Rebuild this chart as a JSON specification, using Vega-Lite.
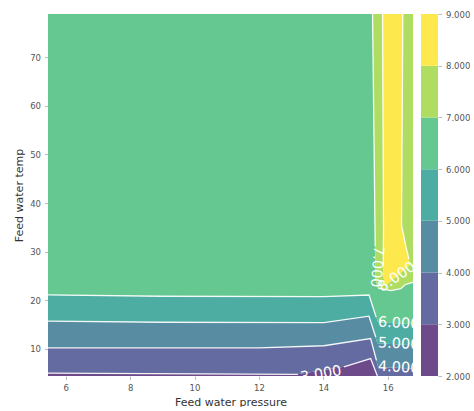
{
  "$schema": "https://vega.github.io/schema/vega-lite/v6.json",
  "background": "white",
  "padding": {"left": 13, "top": 10, "right": 0, "bottom": 0},
  "autosize": {"type": "pad"},
  "spacing": 8,
  "config": {
    "view": {"stroke": null},
    "axis": {
      "domain": false, "grid": false, "tickColor": "#bbbbbb", "tickSize": 3.5, "tickWidth": 1,
      "labelFont": "DejaVu Sans", "labelFontSize": 8.5, "labelColor": "#555555", "labelPadding": 4,
      "titleFont": "DejaVu Sans", "titleFontSize": 11, "titleColor": "#333333", "titleFontWeight": "normal"
    }
  },
  "datasets": {
    "bands": [
      {"band": "2-3", "i": 0, "x": 5.45, "y": 4.44},
      {"band": "2-3", "i": 1, "x": 5.45, "y": 5.04},
      {"band": "2-3", "i": 2, "x": 13.21, "y": 4.79},
      {"band": "2-3", "i": 3, "x": 14.64, "y": 6.32},
      {"band": "2-3", "i": 4, "x": 15.47, "y": 8.02},
      {"band": "2-3", "i": 5, "x": 15.68, "y": 4.44},

      {"band": "3-4", "i": 0, "x": 5.45, "y": 10.21},
      {"band": "3-4", "i": 1, "x": 12.0, "y": 10.21},
      {"band": "3-4", "i": 2, "x": 14.02, "y": 10.66},
      {"band": "3-4", "i": 3, "x": 15.47, "y": 12.14},
      {"band": "3-4", "i": 4, "x": 15.70, "y": 6.34},
      {"band": "3-4", "i": 5, "x": 16.786, "y": 5.93},
      {"band": "3-4", "i": 6, "x": 16.786, "y": 4.44},
      {"band": "3-4", "i": 7, "x": 15.68, "y": 4.44},
      {"band": "3-4", "i": 8, "x": 15.47, "y": 8.02},
      {"band": "3-4", "i": 9, "x": 14.64, "y": 6.32},
      {"band": "3-4", "i": 10, "x": 13.21, "y": 4.79},
      {"band": "3-4", "i": 11, "x": 5.45, "y": 5.04},

      {"band": "4-5", "i": 0, "x": 5.45, "y": 15.74},
      {"band": "4-5", "i": 1, "x": 8.96, "y": 15.49},
      {"band": "4-5", "i": 2, "x": 14.02, "y": 15.43},
      {"band": "4-5", "i": 3, "x": 15.42, "y": 16.73},
      {"band": "4-5", "i": 4, "x": 15.68, "y": 11.17},
      {"band": "4-5", "i": 5, "x": 16.786, "y": 10.76},
      {"band": "4-5", "i": 6, "x": 16.786, "y": 5.93},
      {"band": "4-5", "i": 7, "x": 15.70, "y": 6.34},
      {"band": "4-5", "i": 8, "x": 15.47, "y": 12.14},
      {"band": "4-5", "i": 9, "x": 14.02, "y": 10.66},
      {"band": "4-5", "i": 10, "x": 12.0, "y": 10.21},
      {"band": "4-5", "i": 11, "x": 5.45, "y": 10.21},

      {"band": "5-6", "i": 0, "x": 5.45, "y": 21.11},
      {"band": "5-6", "i": 1, "x": 8.96, "y": 20.84},
      {"band": "5-6", "i": 2, "x": 14.02, "y": 20.74},
      {"band": "5-6", "i": 3, "x": 15.42, "y": 21.09},
      {"band": "5-6", "i": 4, "x": 15.70, "y": 15.49},
      {"band": "5-6", "i": 5, "x": 16.786, "y": 15.08},
      {"band": "5-6", "i": 6, "x": 16.786, "y": 10.76},
      {"band": "5-6", "i": 7, "x": 15.68, "y": 11.17},
      {"band": "5-6", "i": 8, "x": 15.42, "y": 16.73},
      {"band": "5-6", "i": 9, "x": 14.02, "y": 15.43},
      {"band": "5-6", "i": 10, "x": 8.96, "y": 15.49},
      {"band": "5-6", "i": 11, "x": 5.45, "y": 15.74},

      {"band": "6-7", "i": 0, "x": 5.45, "y": 78.87},
      {"band": "6-7", "i": 1, "x": 5.45, "y": 21.11},
      {"band": "6-7", "i": 2, "x": 8.96, "y": 20.84},
      {"band": "6-7", "i": 3, "x": 14.02, "y": 20.74},
      {"band": "6-7", "i": 4, "x": 15.42, "y": 21.09},
      {"band": "6-7", "i": 5, "x": 15.70, "y": 15.49},
      {"band": "6-7", "i": 6, "x": 16.786, "y": 15.08},
      {"band": "6-7", "i": 7, "x": 16.786, "y": 23.72},
      {"band": "6-7", "i": 8, "x": 16.54, "y": 23.21},
      {"band": "6-7", "i": 9, "x": 16.41, "y": 22.39},
      {"band": "6-7", "i": 10, "x": 16.10, "y": 21.98},
      {"band": "6-7", "i": 11, "x": 15.70, "y": 22.49},
      {"band": "6-7", "i": 12, "x": 15.62, "y": 24.14},
      {"band": "6-7", "i": 13, "x": 15.62, "y": 27.84},
      {"band": "6-7", "i": 14, "x": 15.61, "y": 32.37},
      {"band": "6-7", "i": 15, "x": 15.53, "y": 78.87},

      {"band": "7-8", "i": 0, "x": 15.53, "y": 78.87},
      {"band": "7-8", "i": 1, "x": 15.61, "y": 32.37},
      {"band": "7-8", "i": 2, "x": 15.62, "y": 27.84},
      {"band": "7-8", "i": 3, "x": 15.62, "y": 24.14},
      {"band": "7-8", "i": 4, "x": 15.70, "y": 22.49},
      {"band": "7-8", "i": 5, "x": 16.10, "y": 21.98},
      {"band": "7-8", "i": 6, "x": 16.41, "y": 22.39},
      {"band": "7-8", "i": 7, "x": 16.54, "y": 23.21},
      {"band": "7-8", "i": 8, "x": 16.786, "y": 23.72},
      {"band": "7-8", "i": 9, "x": 16.786, "y": 78.87},
      {"band": "7-8", "i": 10, "x": 16.47, "y": 78.87},
      {"band": "7-8", "i": 11, "x": 16.43, "y": 35.45},
      {"band": "7-8", "i": 12, "x": 16.57, "y": 30.93},
      {"band": "7-8", "i": 13, "x": 16.66, "y": 28.46},
      {"band": "7-8", "i": 14, "x": 16.69, "y": 27.33},
      {"band": "7-8", "i": 15, "x": 16.29, "y": 24.96},
      {"band": "7-8", "i": 16, "x": 15.92, "y": 23.00},
      {"band": "7-8", "i": 17, "x": 15.86, "y": 25.16},
      {"band": "7-8", "i": 18, "x": 15.87, "y": 34.01},
      {"band": "7-8", "i": 19, "x": 15.84, "y": 78.87},

      {"band": "8-9", "i": 0, "x": 15.84, "y": 78.87},
      {"band": "8-9", "i": 1, "x": 15.87, "y": 34.01},
      {"band": "8-9", "i": 2, "x": 15.86, "y": 25.16},
      {"band": "8-9", "i": 3, "x": 15.92, "y": 23.00},
      {"band": "8-9", "i": 4, "x": 16.29, "y": 24.96},
      {"band": "8-9", "i": 5, "x": 16.69, "y": 27.33},
      {"band": "8-9", "i": 6, "x": 16.66, "y": 28.46},
      {"band": "8-9", "i": 7, "x": 16.57, "y": 30.93},
      {"band": "8-9", "i": 8, "x": 16.43, "y": 35.45},
      {"band": "8-9", "i": 9, "x": 16.47, "y": 78.87}
    ],
    "contours": [
      {"seg": "3a", "i": 0, "x": 5.45, "y": 5.04},
      {"seg": "3a", "i": 1, "x": 13.21, "y": 4.79},
      {"seg": "3b", "i": 0, "x": 14.64, "y": 6.32},
      {"seg": "3b", "i": 1, "x": 15.47, "y": 8.02},
      {"seg": "3b", "i": 2, "x": 15.68, "y": 4.44},
      {"seg": "4a", "i": 0, "x": 5.45, "y": 10.21},
      {"seg": "4a", "i": 1, "x": 12.0, "y": 10.21},
      {"seg": "4a", "i": 2, "x": 14.02, "y": 10.66},
      {"seg": "4a", "i": 3, "x": 15.47, "y": 12.14},
      {"seg": "4a", "i": 4, "x": 15.65, "y": 7.67},
      {"seg": "5a", "i": 0, "x": 5.45, "y": 15.74},
      {"seg": "5a", "i": 1, "x": 8.96, "y": 15.49},
      {"seg": "5a", "i": 2, "x": 14.02, "y": 15.43},
      {"seg": "5a", "i": 3, "x": 15.42, "y": 16.73},
      {"seg": "5a", "i": 4, "x": 15.63, "y": 12.41},
      {"seg": "6a", "i": 0, "x": 5.45, "y": 21.11},
      {"seg": "6a", "i": 1, "x": 8.96, "y": 20.84},
      {"seg": "6a", "i": 2, "x": 14.02, "y": 20.74},
      {"seg": "6a", "i": 3, "x": 15.42, "y": 21.09},
      {"seg": "6a", "i": 4, "x": 15.64, "y": 16.58},
      {"seg": "7a", "i": 0, "x": 15.53, "y": 78.87},
      {"seg": "7a", "i": 1, "x": 15.61, "y": 32.37},
      {"seg": "7a", "i": 2, "x": 15.61, "y": 31.13},
      {"seg": "7b", "i": 0, "x": 15.70, "y": 22.49},
      {"seg": "7b", "i": 1, "x": 16.10, "y": 21.98},
      {"seg": "7b", "i": 2, "x": 16.41, "y": 22.39},
      {"seg": "7b", "i": 3, "x": 16.54, "y": 23.21},
      {"seg": "7b", "i": 4, "x": 16.786, "y": 23.72},
      {"seg": "8a", "i": 0, "x": 15.84, "y": 78.87},
      {"seg": "8a", "i": 1, "x": 15.87, "y": 34.01},
      {"seg": "8a", "i": 2, "x": 15.86, "y": 27.22},
      {"seg": "8b", "i": 0, "x": 16.66, "y": 28.46},
      {"seg": "8b", "i": 1, "x": 16.57, "y": 30.93},
      {"seg": "8b", "i": 2, "x": 16.43, "y": 35.45},
      {"seg": "8b", "i": 3, "x": 16.47, "y": 78.87}
    ],
    "labels": [
      {"t": "3.000", "x": 13.93, "y": 4.75},
      {"t": "4.000", "x": 16.34, "y": 6.13},
      {"t": "5.000", "x": 16.34, "y": 10.97},
      {"t": "6.000", "x": 16.34, "y": 15.19},
      {"t": "7.000", "x": 15.65, "y": 26.91},
      {"t": "8.000", "x": 16.29, "y": 24.75}
    ],
    "colorbar": [
      {"band": "2-3", "lo": 2, "hi": 3},
      {"band": "3-4", "lo": 3, "hi": 4},
      {"band": "4-5", "lo": 4, "hi": 5},
      {"band": "5-6", "lo": 5, "hi": 6},
      {"band": "6-7", "lo": 6, "hi": 7},
      {"band": "7-8", "lo": 7, "hi": 8},
      {"band": "8-9", "lo": 8, "hi": 9}
    ]
  },
  "hconcat": [
    {
      "width": 365,
      "height": 362,
      "encoding": {
        "x": {"field": "x", "type": "quantitative",
              "scale": {"domain": [5.45, 16.786], "nice": false, "zero": false},
              "axis": {"values": [6, 8, 10, 12, 14, 16], "format": "d", "title": "Feed water pressure", "labelFlush": false, "titlePadding": 4}},
        "y": {"field": "y", "type": "quantitative",
              "scale": {"domain": [4.44, 78.87], "nice": false, "zero": false},
              "axis": {"values": [10, 20, 30, 40, 50, 60, 70], "format": "d", "title": "Feed water temp", "labelFlush": false, "titlePadding": 5}}
      },
      "layer": [
        {
          "data": {"name": "bands"},
          "mark": {"type": "line", "interpolate": "linear", "strokeWidth": 0, "clip": true},
          "encoding": {
            "order": {"field": "i", "type": "quantitative"},
            "fill": {"field": "band", "type": "nominal",
                     "scale": {"domain": ["2-3", "3-4", "4-5", "5-6", "6-7", "7-8", "8-9"],
                               "range": ["#6d4a8a", "#646ba0", "#578ca3", "#4dada2", "#64c890", "#aedd62", "#fde84e"]},
                     "legend": null}
          }
        },
        {
          "data": {"name": "contours"},
          "mark": {"type": "line", "color": "white", "strokeWidth": 1.3, "opacity": 0.9, "clip": true},
          "encoding": {
            "detail": {"field": "seg", "type": "nominal"},
            "order": {"field": "i", "type": "quantitative"}
          }
        },
        {
          "data": {"name": "labels"},
          "transform": [{"filter": "datum.t == '4.000' || datum.t == '5.000' || datum.t == '6.000'"}],
          "mark": {"type": "text", "font": "DejaVu Sans", "fontSize": 14.5, "color": "white", "align": "center", "baseline": "middle", "angle": 3, "clip": true},
          "encoding": {"text": {"field": "t"}}
        },
        {
          "data": {"name": "labels"},
          "transform": [{"filter": "datum.t == '3.000'"}],
          "mark": {"type": "text", "font": "DejaVu Sans", "fontSize": 14.5, "color": "white", "align": "center", "baseline": "middle", "angle": 350, "clip": true},
          "encoding": {"text": {"field": "t"}}
        },
        {
          "data": {"name": "labels"},
          "transform": [{"filter": "datum.t == '7.000'"}],
          "mark": {"type": "text", "font": "DejaVu Sans", "fontSize": 14.5, "color": "white", "align": "center", "baseline": "middle", "angle": 95, "clip": true},
          "encoding": {"text": {"field": "t"}}
        },
        {
          "data": {"name": "labels"},
          "transform": [{"filter": "datum.t == '8.000'"}],
          "mark": {"type": "text", "font": "DejaVu Sans", "fontSize": 14.5, "color": "white", "align": "center", "baseline": "middle", "angle": 326, "clip": true},
          "encoding": {"text": {"field": "t"}}
        }
      ]
    },
    {
      "width": 17,
      "height": 362,
      "data": {"name": "colorbar"},
      "mark": {"type": "rect"},
      "encoding": {
        "y": {"field": "lo", "type": "quantitative",
              "scale": {"domain": [2, 9], "nice": false, "zero": false},
              "axis": {"orient": "right", "values": [2, 3, 4, 5, 6, 7, 8, 9], "format": ".3f", "title": null, "labelFlush": false}},
        "y2": {"field": "hi"},
        "fill": {"field": "band", "type": "nominal", "legend": null}
      }
    }
  ]
}
